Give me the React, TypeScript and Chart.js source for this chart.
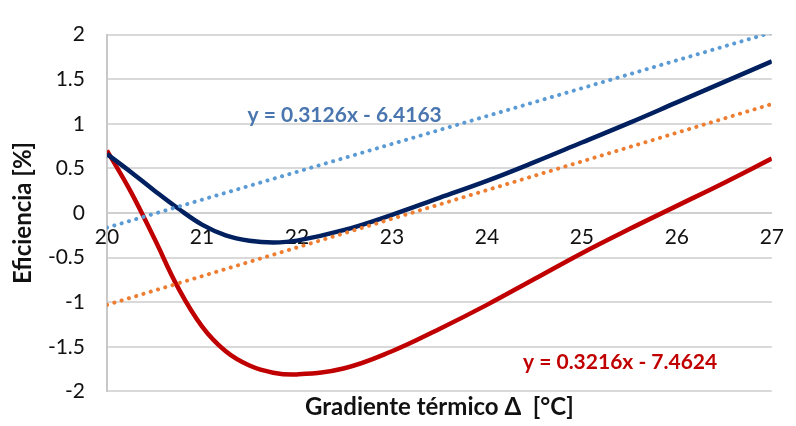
import React, { useEffect, useRef } from "react";
import { Chart, registerables } from "chart.js";

Chart.register(...registerables);

// ---- data ----
const navyX = [20, 20.25, 20.5, 20.75, 21, 21.25, 21.5, 21.75, 22, 22.5, 23, 23.5, 24, 24.5, 25, 25.5, 26, 26.5, 27];
const navyY = [0.66, 0.46, 0.25, 0.05, -0.13, -0.25, -0.31, -0.33, -0.31, -0.19, -0.02, 0.17, 0.36, 0.57, 0.79, 1.01, 1.24, 1.47, 1.7];

const redX = [20, 20.25, 20.5, 20.75, 21, 21.25, 21.5, 21.75, 22, 22.5, 23, 23.5, 24, 24.5, 25, 25.5, 26, 26.5, 27];
const redY = [0.7, 0.24, -0.29, -0.84, -1.27, -1.55, -1.71, -1.79, -1.81, -1.74, -1.55, -1.3, -1.03, -0.74, -0.45, -0.18, 0.08, 0.34, 0.61];

const trendX = [20, 27];
const blueTrendY = [-0.164, 2.024];
const orangeTrendY = [-1.03, 1.221];

const yTickValues = [-2, -1.5, -1, -0.5, 0, 0.5, 1, 1.5, 2];

const blueEquation = "y = 0.3126x - 6.4163";
const redEquation = "y = 0.3216x - 7.4624";
const blueEqPos = { x: 21.48, y: 1.1 };
const redEqPos = { x: 24.38, y: -1.67 };

const xTitle = "Gradiente térmico Δ  [°C]";
const yTitle = "Eficiencia [%]";

const FONT = "Lato, 'Open Sans', sans-serif";

const pts = (xs: number[], ys: number[]) => xs.map((x, i) => ({ x, y: ys[i] }));

const textPlugin = {
  id: "texts",
  afterDraw(chart: any) {
    const { ctx, chartArea, scales } = chart;
    const xs = scales.x;
    const ys = scales.y;
    ctx.save();
    ctx.textBaseline = "middle";
    ctx.font = `bold 21px ${FONT}`;
    ctx.textAlign = "left";
    ctx.fillStyle = "#4a76b0";
    ctx.fillText(blueEquation, xs.getPixelForValue(blueEqPos.x), ys.getPixelForValue(blueEqPos.y));
    ctx.fillStyle = "#c00000";
    ctx.fillText(redEquation, xs.getPixelForValue(redEqPos.x), ys.getPixelForValue(redEqPos.y));

    ctx.fillStyle = "#111";
    ctx.font = `bold 24px ${FONT}`;
    ctx.textAlign = "center";
    ctx.fillText(xTitle, (chartArea.left + chartArea.right) / 2, chartArea.bottom + 16);

    ctx.translate(23, (chartArea.top + chartArea.bottom) / 2);
    ctx.rotate(-Math.PI / 2);
    ctx.fillText(yTitle, 0, 0);
    ctx.restore();
  },
};

export default function App() {
  const ref = useRef<HTMLCanvasElement | null>(null);

  useEffect(() => {
    document.body.style.margin = "0";
    const canvas = ref.current;
    if (!canvas) return;
    const dotted = {
      borderDash: [0.1, 7.5],
      borderCapStyle: "round" as const,
      borderWidth: 4,
      pointRadius: 0,
      tension: 0,
    };
    const chart = new Chart(canvas, {
      type: "line",
      data: {
        datasets: [
          { label: "trend1", data: pts(trendX, blueTrendY), borderColor: "#5b9bd5", ...dotted },
          { label: "trend2", data: pts(trendX, orangeTrendY), borderColor: "#ed7d31", ...dotted },
          {
            label: "navy",
            data: pts(navyX, navyY),
            borderColor: "#002060",
            borderWidth: 4.5,
            pointRadius: 0,
            tension: 0.4,
          },
          {
            label: "red",
            data: pts(redX, redY),
            borderColor: "#c00000",
            borderWidth: 4.5,
            pointRadius: 0,
            tension: 0.4,
          },
        ],
      },
      options: {
        animation: false,
        responsive: false,
        layout: { padding: { left: 0, right: 19, top: 24, bottom: 33 } },
        plugins: { legend: { display: false }, tooltip: { enabled: false } },
        scales: {
          x: {
            type: "linear",
            position: { y: 0 } as any,
            min: 20,
            max: 27,
            ticks: {
              stepSize: 1,
              padding: 12,
              color: "#111",
              font: { family: FONT, size: 21 },
              maxRotation: 0,
            },
            grid: { display: false, drawTicks: false },
            border: { display: true, color: "#d0d0d0", width: 2 },
          },
          y: {
            type: "linear",
            min: -2,
            max: 2,
            afterFit: (s: any) => {
              s.width = 107;
            },
            afterBuildTicks: (s: any) => {
              s.ticks = yTickValues.map((v) => ({ value: v }));
            },
            ticks: {
              padding: 22,
              color: "#111",
              font: { family: FONT, size: 21 },
              callback: (v: any) => String(v),
            },
            grid: { color: "#d9d9d9", lineWidth: 2, drawTicks: false },
            border: { display: true, color: "#c8c8c8", width: 2 },
          },
        },
      },
      plugins: [textPlugin],
    });
    return () => chart.destroy();
  }, []);

  return <canvas ref={ref} width={796} height={426} style={{ display: "block" }} />;
}
